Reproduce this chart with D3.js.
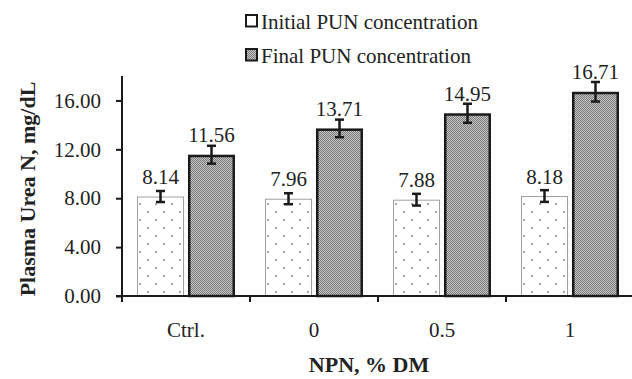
<!DOCTYPE html>
<html><head><meta charset="utf-8">
<script src="https://cdn.jsdelivr.net/npm/d3@7"></script>
<style>body{margin:0;background:#fff}svg{display:block}text{font-family:"Liberation Serif","Times New Roman",serif;fill:#222}</style>
</head><body><svg id="c" width="632" height="379"></svg>
<script>
const categories = ["Ctrl.", "0", "0.5", "1"];
const seriesNames = ["Initial PUN concentration", "Final PUN concentration"];
const initialValues = [8.14, 7.96, 7.88, 8.18];
const finalValues = [11.56, 13.71, 14.95, 16.71];
const initialErr = [0.45, 0.45, 0.48, 0.48];
const finalErr = [0.73, 0.72, 0.78, 0.8];
const yTicks = [0, 4, 8, 12, 16];

const svg = d3.select("#c");
const m = {l:122, r:634, t:76, b:296};
const x = d3.scaleBand().domain(categories).range([m.l, m.r]);
const xs = d3.scaleBand().domain([0,1]).range([0, x.bandwidth()]).paddingInner(0.078).paddingOuter(0.294);
const y = d3.scaleLinear().domain([0, 18]).range([m.b, m.t]);

const defs = svg.append("defs");
const pd = defs.append("pattern").attr("id","dots").attr("patternUnits","userSpaceOnUse").attr("width",16).attr("height",16);
pd.append("rect").attr("width",16).attr("height",16).attr("fill","#fff");
pd.append("circle").attr("cx",4).attr("cy",4).attr("r",1).attr("fill","#888");
pd.append("circle").attr("cx",12).attr("cy",12).attr("r",1).attr("fill","#888");
const pc = defs.append("pattern").attr("id","check").attr("patternUnits","userSpaceOnUse").attr("width",2).attr("height",2);
pc.append("rect").attr("width",2).attr("height",2).attr("fill","#c4c4c4");
pc.append("rect").attr("width",1).attr("height",1).attr("fill","#7c7c7c");
pc.append("rect").attr("x",1).attr("y",1).attr("width",1).attr("height",1).attr("fill","#7c7c7c");

const series = [
  {vals: initialValues, err: initialErr, fill: "url(#dots)", stroke: "#a0a0a0", sw: 1},
  {vals: finalValues, err: finalErr, fill: "url(#check)", stroke: "#1a1a1a", sw: 2.5}
];

series.forEach((s, si) => {
  const g = svg.append("g");
  categories.forEach((c, i) => {
    const x0 = x(c) + xs(si), w = xs.bandwidth(), v = s.vals[i];
    g.append("rect").attr("x", x0 + s.sw/2).attr("y", y(v) + s.sw/2)
      .attr("width", w - s.sw).attr("height", y(0) - y(v) - s.sw/2)
      .attr("fill", s.fill).attr("stroke", s.stroke).attr("stroke-width", s.sw);
    const cx = x0 + w/2, e = s.err[i];
    g.append("line").attr("x1",cx).attr("x2",cx).attr("y1",y(v+e)).attr("y2",y(v-e)).attr("stroke","#1a1a1a").attr("stroke-width",2.5);
    [v+e, v-e].forEach(t => g.append("line").attr("x1",cx-4.5).attr("x2",cx+4.5).attr("y1",y(t)).attr("y2",y(t)).attr("stroke","#1a1a1a").attr("stroke-width",2.5));
    g.append("text").attr("x", cx).attr("y", y(v) - 12.5).attr("text-anchor","middle").attr("font-size",21).text(v.toFixed(2));
  });
});

// axes
const ya = svg.append("g").attr("transform",`translate(${m.l},0)`)
  .call(d3.axisLeft(y).tickValues(yTicks).tickSize(6).tickPadding(15).tickFormat(d3.format(".2f")));
ya.select(".domain").attr("d", `M0,${m.t}V${m.b}`).attr("stroke","#1a1a1a").attr("stroke-width",2);
ya.selectAll(".tick line").attr("stroke","#1a1a1a").attr("stroke-width",2);
ya.selectAll("text").attr("font-size",21).attr("fill","#222").attr("font-family","Liberation Serif");

const xa = svg.append("g").attr("transform",`translate(0,${m.b})`)
  .call(d3.axisBottom(x).tickValues([]).tickSize(0));
xa.select(".domain").attr("d", `M${m.l-6},0H${m.r}`).attr("stroke","#1a1a1a").attr("stroke-width",2);
const bounds = categories.map(c => x(c)).concat([m.r]);
bounds.forEach(b => svg.append("line").attr("x1",b).attr("x2",b).attr("y1",m.b).attr("y2",m.b+6).attr("stroke","#1a1a1a").attr("stroke-width",2));
categories.forEach(c => svg.append("text").attr("x", x(c)+x.bandwidth()/2).attr("y", 337).attr("text-anchor","middle").attr("font-size",21).text(c));

svg.append("text").attr("x", 369).attr("y", 372).attr("text-anchor","middle").attr("font-size",22).attr("font-weight","bold").text("NPN, % DM");
svg.append("text").attr("transform","translate(35,189) rotate(-90)").attr("text-anchor","middle").attr("font-size",22).attr("font-weight","bold").text("Plasma Urea N, mg/dL");

// legend
const lg = svg.append("g");
const legendFills = [["#fff", "#1a1a1a"], ["url(#check)", "#1a1a1a"]];
seriesNames.forEach((n, i) => {
  const yy = 15 + i*34;
  lg.append("rect").attr("x", 246).attr("y", yy).attr("width", 11).attr("height", 11.5)
    .attr("fill", legendFills[i][0]).attr("stroke", legendFills[i][1]).attr("stroke-width", 2);
  lg.append("text").attr("x", 261).attr("y", yy + 14).attr("font-size", 21).text(n);
});
</script></body></html>
